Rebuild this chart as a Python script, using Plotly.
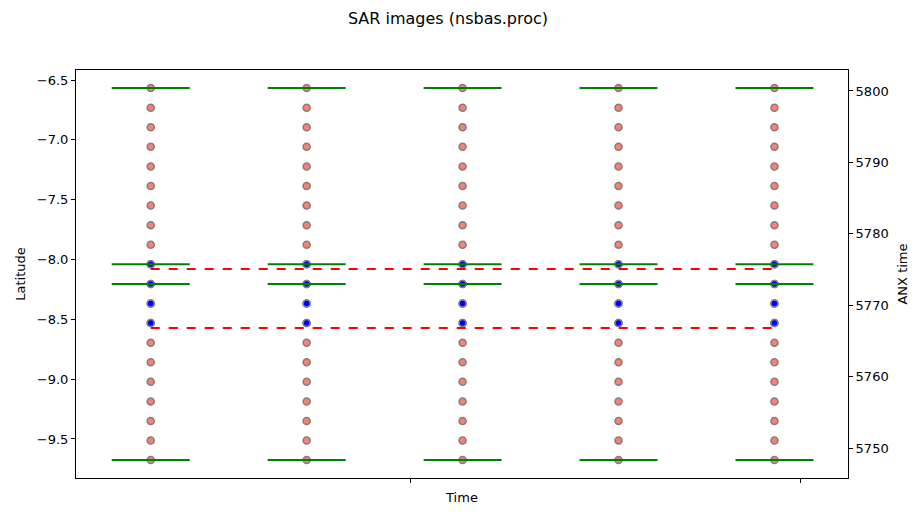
import plotly.graph_objects as go

# ---- data ----
acq_days = [0, 12, 24, 36, 48]          # acquisition dates (days from first)
burst_lat = [-6.567, -6.731, -6.894, -7.058, -7.222, -7.385, -7.549, -7.713,
             -7.876, -8.040, -8.204, -8.367, -8.531, -8.695, -8.858, -9.022,
             -9.186, -9.349, -9.513, -9.676]
selected_lat = [-8.040, -8.204, -8.367, -8.531]
bound_lat = [-6.567, -8.040, -8.204, -9.676]
anx_levels = [5775.07, 5766.8]
x_tick_days = [20, 50]

HALF = 3  # half width of the green markers, days
FONT = "DejaVu Sans"

fig = go.Figure()

# all bursts
xs, ys = [], []
for d in acq_days:
    for lat in burst_lat:
        xs.append(d); ys.append(lat)
fig.add_trace(go.Scatter(x=xs, y=ys, mode="markers", showlegend=False,
                         marker=dict(size=7, color="#FA8072",
                                     line=dict(color="#808080", width=1.6))))
# selected bursts
xs, ys = [], []
for d in acq_days:
    for lat in selected_lat:
        xs.append(d); ys.append(lat)
fig.add_trace(go.Scatter(x=xs, y=ys, mode="markers", showlegend=False,
                         marker=dict(size=7, color="#0000FF",
                                     line=dict(color="#808080", width=1.6))))
# green bounds
xs, ys = [], []
for d in acq_days:
    for lat in bound_lat:
        xs += [d - HALF, d + HALF, None]
        ys += [lat, lat, None]
fig.add_trace(go.Scatter(x=xs, y=ys, mode="lines", showlegend=False,
                         line=dict(color="green", width=2)))
# ANX time dashed lines on right axis
for v in anx_levels:
    fig.add_trace(go.Scatter(x=[acq_days[0], acq_days[-1]], y=[v, v], yaxis="y2",
                             mode="lines", showlegend=False,
                             line=dict(color="red", width=2, dash="dash")))

axis_common = dict(showgrid=False, zeroline=False, showline=True, linecolor="black",
                   linewidth=1, ticks="outside", ticklen=4, tickcolor="black",
                   tickfont=dict(family=FONT, size=13, color="black"))

fig.update_layout(
    width=922, height=515,
    margin=dict(l=64, r=82, t=62, b=45),
    paper_bgcolor="white", plot_bgcolor="white",
    font=dict(family=FONT, size=13, color="black"),
    title=dict(text="SAR images (nsbas.proc)", x=440 / 922, xanchor="center",
               y=1 - 10 / 515, yanchor="middle",
               font=dict(family=FONT, size=16, color="black")),
    xaxis=dict(range=[-5.75, 53.66], tickvals=x_tick_days, ticktext=["", ""],
               mirror=True, title=dict(text="Time", standoff=8,
                                       font=dict(family=FONT, size=13)),
               **axis_common),
    yaxis=dict(range=[-9.826, -6.416], tickvals=[-6.5, -7.0, -7.5, -8.0, -8.5, -9.0, -9.5],
               ticktext=["\u22126.5", "\u22127.0", "\u22127.5", "\u22128.0", "\u22128.5",
                         "\u22129.0", "\u22129.5"],
               mirror=True, title=dict(text="Latitude", standoff=8,
                                       font=dict(family=FONT, size=13)),
               **axis_common),
    yaxis2=dict(range=[5745.8, 5802.94], overlaying="y", side="right",
                tickvals=[5750, 5760, 5770, 5780, 5790, 5800],
                title=dict(text="ANX time", standoff=10, font=dict(family=FONT, size=13)),
                **axis_common),
)

fig.write_html("out.html")
